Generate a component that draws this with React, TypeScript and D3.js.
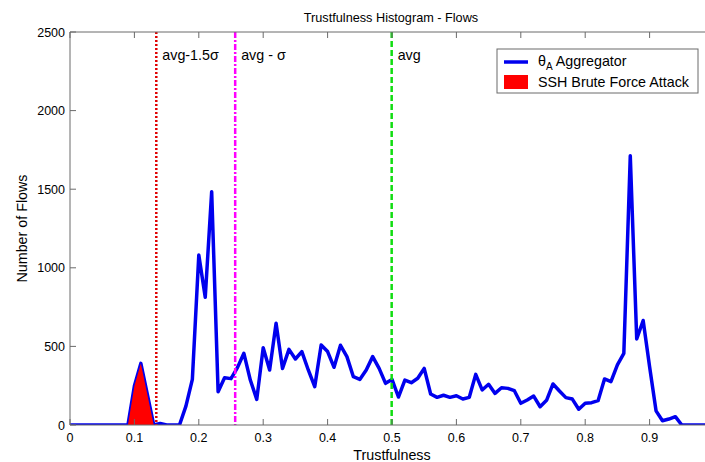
import React from "react";
import * as d3 from "d3";

const bins: number[] = [
  0.0, 0.01, 0.02, 0.03, 0.04, 0.05, 0.06, 0.07, 0.08, 0.09,
  0.1, 0.11, 0.12, 0.13, 0.14, 0.15, 0.16, 0.17, 0.18, 0.19,
  0.2, 0.21, 0.22, 0.23, 0.24, 0.25, 0.26, 0.27, 0.28, 0.29,
  0.3, 0.31, 0.32, 0.33, 0.34, 0.35, 0.36, 0.37, 0.38, 0.39,
  0.4, 0.41, 0.42, 0.43, 0.44, 0.45, 0.46, 0.47, 0.48, 0.49,
  0.5, 0.51, 0.52, 0.53, 0.54, 0.55, 0.56, 0.57, 0.58, 0.59,
  0.6, 0.61, 0.62, 0.63, 0.64, 0.65, 0.66, 0.67, 0.68, 0.69,
  0.7, 0.71, 0.72, 0.73, 0.74, 0.75, 0.76, 0.77, 0.78, 0.79,
  0.8, 0.81, 0.82, 0.83, 0.84, 0.85, 0.86, 0.87, 0.88, 0.89,
  0.9, 0.91, 0.92, 0.93, 0.94, 0.95, 0.96, 0.97, 0.98, 0.99, 1.0,
];

const aggregator: number[] = [
  0, 0, 0, 0, 0, 0, 0, 0, 0, 0,
  248, 392, 196, 0, 10, 0, 0, 0, 120, 290,
  1081, 812, 1484, 212, 301, 295, 365, 456, 286, 163,
  492, 350, 647, 360, 481, 420, 467, 350, 244, 509,
  467, 367, 507, 435, 307, 290, 350, 435, 360, 265,
  290, 178, 286, 269, 297, 360, 197, 176, 189, 176,
  186, 165, 176, 322, 223, 259, 201, 237, 233, 218,
  138, 159, 184, 116, 157, 261, 216, 174, 165, 100,
  138, 142, 155, 293, 276, 382, 456, 1712, 547, 665,
  370, 90, 27, 38, 53, 0, 0, 0, 0, 0, 0,
];

const sshBins: number[] = [0.09, 0.1, 0.11, 0.12, 0.13];
const sshValues: number[] = [0, 248, 392, 196, 0];

const refLines = [
  { label: "avg-1.5σ", value: 0.134, color: "#e00000", dash: "2,2" },
  { label: "avg - σ", value: 0.2565, color: "#ff00ff", dash: "6,2,2,2" },
  { label: "avg", value: 0.4995, color: "#11dd11", dash: "6,3" },
];

const xTicks: number[] = [0, 0.1, 0.2, 0.3, 0.4, 0.5, 0.6, 0.7, 0.8, 0.9];
const yTicks: number[] = [0, 500, 1000, 1500, 2000, 2500];

const W = 705;
const H = 462;
const left = 70;
const right = 714;
const top = 32;
const bottom = 425;
const font = "'Liberation Sans', Arial, Helvetica, sans-serif";
const axisColor = "#6a6a6a";
const bigFont = 14.3;

export default function App() {
  const x = d3.scaleLinear().domain([0, 1]).range([left, right]);
  const y = d3.scaleLinear().domain([0, 2500]).range([bottom, top]);

  const line = d3
    .line<number>()
    .x((_, i) => x(bins[i]))
    .y((d) => y(d));
  const area = d3
    .area<number>()
    .x((_, i) => x(sshBins[i]))
    .y0(y(0))
    .y1((d) => y(d));

  return (
    <svg
      width={W}
      height={H}
      style={{ position: "absolute", left: 0, top: 0, background: "#fff" }}
      fontFamily={font}
    >
      <rect x={0} y={0} width={W} height={H} fill="#fff" />
      <defs>
        <clipPath id="plot">
          <rect x={left} y={top} width={right - left} height={bottom - top} />
        </clipPath>
      </defs>

      {/* data */}
      <g clipPath="url(#plot)">
        <path d={line(aggregator) || ""} fill="none" stroke="#0000ee" strokeWidth={3.5} strokeLinejoin="round" />
        <path d={area(sshValues) || ""} fill="#ff0000" stroke="none" />
        {refLines.map((r) => (
          <line
            key={r.label}
            x1={x(r.value)}
            x2={x(r.value)}
            y1={top}
            y2={bottom}
            stroke={r.color}
            strokeWidth={2.5}
            strokeDasharray={r.dash}
          />
        ))}
      </g>

      {refLines.map((r) => (
        <text key={r.label + "t"} x={x(r.value) + 6} y={60} fontSize={bigFont} fill="#000">
          {r.label}
        </text>
      ))}

      {/* axes frame */}
      <line x1={left} x2={left} y1={top} y2={bottom} stroke={axisColor} strokeWidth={1} />
      <line x1={left} x2={right} y1={top} y2={top} stroke={axisColor} strokeWidth={1} />
      <line x1={left} x2={right} y1={bottom} y2={bottom} stroke={axisColor} strokeWidth={1} />

      {xTicks.map((t) => (
        <g key={"x" + t}>
          <line x1={x(t)} x2={x(t)} y1={bottom} y2={bottom - 6} stroke={axisColor} />
          <line x1={x(t)} x2={x(t)} y1={top} y2={top + 6} stroke={axisColor} />
          <text x={x(t)} y={442} textAnchor="middle" fontSize={12.5} fill="#000">
            {t === 0 ? "0" : String(t)}
          </text>
        </g>
      ))}
      {yTicks.map((t) => (
        <g key={"y" + t}>
          <line x1={left} x2={left + 6} y1={y(t)} y2={y(t)} stroke={axisColor} />
          <text x={65} y={y(t) + 4.5} textAnchor="end" fontSize={12.5} fill="#000">
            {t}
          </text>
        </g>
      ))}

      <text x={391} y={22} textAnchor="middle" fontSize={12.7} fill="#000">
        Trustfulness Histogram - Flows
      </text>
      <text x={392} y={460} textAnchor="middle" fontSize={bigFont} fill="#000">
        Trustfulness
      </text>
      <text
        transform={`translate(27, ${(top + bottom) / 2}) rotate(-90)`}
        textAnchor="middle"
        fontSize={bigFont}
        fill="#000"
      >
        Number of Flows
      </text>

      {/* legend */}
      <g>
        <rect x={497} y={49} width={201} height={44} fill="#fff" stroke={axisColor} strokeWidth={1} />
        <line x1={504} x2={528} y1={62} y2={62} stroke="#0000ee" strokeWidth={3.5} />
        <text x={538} y={66} fontSize={bigFont} fill="#000">
          θ<tspan fontSize={10} dy={4}>A</tspan>
          <tspan dy={-4}> Aggregator</tspan>
        </text>
        <rect x={504} y={75} width={24} height={14} fill="#ff0000" />
        <text x={538} y={87} fontSize={bigFont} fill="#000">
          SSH Brute Force Attack
        </text>
      </g>
    </svg>
  );
}
